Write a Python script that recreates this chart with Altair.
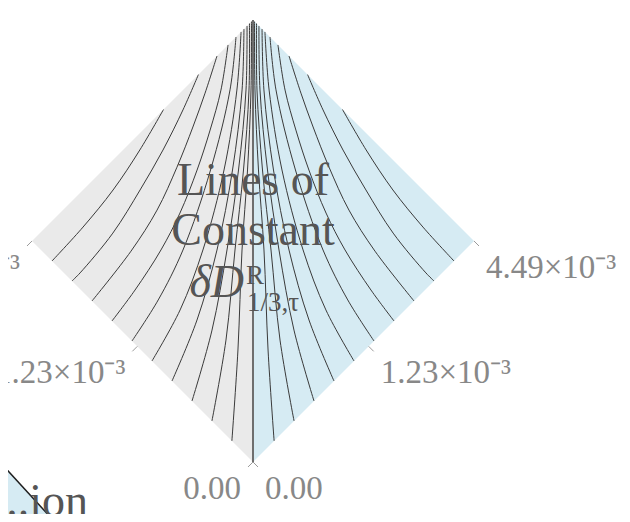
import altair as alt
import pandas as pd

# Both diamond axes run from 0 to 4.49×10⁻³ on a square-root scale.
AXIS_MAX = 4.49  # in units of 10⁻³

tick_values = [0.0, 1.23, 4.49]
tick_labels = ["0.00", "1.23×10⁻³", "4.49×10⁻³"]

# Contour lines in the gray (left) half: u = right-axis value, v = left-axis value (×10⁻³)
left_u = [
    [1.590, 0.909, 0.401, 0.097, 0.0],
    [2.546, 1.828, 1.132, 0.582, 0.181, 0.006, 0.0],
    [3.146, 2.367, 1.737, 1.100, 0.559, 0.181, 0.0],
    [3.533, 2.655, 1.920, 1.280, 0.711, 0.331, 0.067, 0.0],
    [3.825, 2.802, 1.431, 0.463, 0.104, 0.0],
    [4.018, 2.910, 1.590, 0.603, 0.144, 0.0],
    [4.130, 2.997, 1.694, 0.711, 0.170, 0.0],
    [4.251, 3.063, 1.770, 0.795, 0.190, 0.0],
    [4.348, 3.112, 1.834, 0.865, 0.207, 0.0],
    [4.427, 3.146, 1.887, 0.929, 0.216, 0.0],
]
left_v = [
    [4.49, 4.155, 3.900, 3.768, 3.714],
    [4.49, 4.095, 3.714, 3.406, 3.130, 3.012, 3.012],
    [4.49, 3.993, 3.588, 3.161, 2.781, 2.546, 2.383],
    [4.49, 3.751, 3.229, 2.781, 2.383, 2.125, 1.932, 1.828],
    [4.49, 3.588, 2.571, 1.828, 1.516, 1.346],
    [4.49, 3.461, 2.368, 1.579, 1.163, 0.938],
    [4.49, 3.371, 2.244, 1.413, 0.901, 0.603],
    [4.49, 3.302, 2.159, 1.302, 0.687, 0.342],
    [4.49, 3.249, 2.089, 1.216, 0.510, 0.155],
    [4.49, 3.214, 2.034, 1.143, 0.371, 0.041],
]
# Contour lines in the blue (right) half
right_u = [
    [4.49, 4.155, 3.900, 3.768, 3.714],
    [4.49, 4.095, 3.714, 3.406, 3.130, 3.012, 3.012],
    [4.49, 3.993, 3.588, 3.161, 2.781, 2.546, 2.383],
    [4.49, 3.751, 3.229, 2.781, 2.383, 2.125, 1.932, 1.828],
    [4.49, 3.588, 2.571, 1.828, 1.516, 1.346],
    [4.49, 3.461, 2.368, 1.579, 1.163, 0.938],
    [4.49, 3.371, 2.244, 1.413, 0.901, 0.603],
    [4.49, 3.302, 2.159, 1.302, 0.687, 0.342],
    [4.49, 3.249, 2.089, 1.216, 0.510, 0.155],
    [4.49, 3.214, 2.034, 1.143, 0.371, 0.041],
]
right_v = [
    [1.590, 0.909, 0.401, 0.097, 0.0],
    [2.546, 1.828, 1.132, 0.582, 0.181, 0.006, 0.0],
    [3.146, 2.367, 1.737, 1.100, 0.559, 0.181, 0.0],
    [3.533, 2.655, 1.920, 1.280, 0.711, 0.331, 0.067, 0.0],
    [3.825, 2.802, 1.431, 0.463, 0.104, 0.0],
    [4.018, 2.910, 1.590, 0.603, 0.144, 0.0],
    [4.130, 2.997, 1.694, 0.711, 0.170, 0.0],
    [4.251, 3.063, 1.770, 0.795, 0.190, 0.0],
    [4.348, 3.112, 1.834, 0.865, 0.207, 0.0],
    [4.427, 3.146, 1.887, 0.929, 0.216, 0.0],
]

# Zero line (u = v)
center_u = [0.0, 4.49]
center_v = [0.0, 4.49]

# Half-diamond fills: lower and upper corner of each vertical slice
half_side = ["left", "left", "right", "right"]
half_lo_u = [0.0, 0.0, 0.0, 4.49]
half_lo_v = [4.49, 0.0, 0.0, 0.0]
half_hi_u = [0.0, 4.49, 4.49, 4.49]
half_hi_v = [4.49, 4.49, 4.49, 0.0]

# Edge of the neighbouring panel (diagonal units of this frame)
neighbor_h = [-1.167, -0.851]
neighbor_w = [0.023, -0.321]

# ---------------------------------------------------------------------------
GRAY_FILL = "#EAEAEA"
BLUE_FILL = "#D6EBF3"
SERIF = "Liberation Serif"

X_DOMAIN = [-1.1086, 1.6697]
Y_DOMAIN = [-0.2353, 2.0543]


def xe(field="h"):
    return alt.X(f"{field}:Q", scale=alt.Scale(domain=X_DOMAIN, nice=False, zero=False), axis=None)


def ye(field="w"):
    return alt.Y(f"{field}:Q", scale=alt.Scale(domain=Y_DOMAIN, nice=False, zero=False), axis=None)


def sq(f):
    return f"sqrt(datum.{f}/{AXIS_MAX})"


H_EXPR = f"{sq('u')} - {sq('v')}"
W_EXPR = f"{sq('u')} + {sq('v')}"

rows = []
for side, us, vs in (("left", left_u, left_v), ("right", right_u, right_v)):
    for k, (cu, cv) in enumerate(zip(us, vs)):
        for i, (uu, vv) in enumerate(zip(cu, cv)):
            rows.append({"curve": f"{side}{k}", "i": i, "u": uu, "v": vv})
curves = pd.DataFrame(rows)

halves = pd.DataFrame({"side": half_side, "lu": half_lo_u, "lv": half_lo_v,
                       "hu": half_hi_u, "hv": half_hi_v})

fills = alt.Chart(halves).transform_calculate(
    h=f"{sq('lu')} - {sq('lv')}",
    w=f"{sq('lu')} + {sq('lv')}",
    w2=f"{sq('hu')} + {sq('hv')}",
).mark_area(opacity=1).encode(
    x=xe(), y=ye(), y2="w2:Q",
    color=alt.Color("side:N", scale=alt.Scale(domain=["left", "right"],
                                               range=[GRAY_FILL, BLUE_FILL]), legend=None),
)

curve_layer = alt.Chart(curves).transform_calculate(h=H_EXPR, w=W_EXPR).mark_line(
    interpolate="catmull-rom", color="#3a3a3a", strokeWidth=1
).encode(x=xe(), y=ye(), detail="curve:N", order="i:Q")

center = alt.Chart(pd.DataFrame({"u": center_u, "v": center_v})).transform_calculate(
    h=H_EXPR, w=W_EXPR
).mark_line(color="#6e6e6e", strokeWidth=2).encode(x=xe(), y=ye())

n = len(tick_values)
ticks = pd.DataFrame({
    "t": tick_values * 2,
    "label": tick_labels * 2,
    "axis": ["right"] * n + ["left"] * n,
})
tick_base = alt.Chart(ticks).transform_calculate(
    u="datum.axis == 'right' ? datum.t : 0",
    v="datum.axis == 'left' ? datum.t : 0",
).transform_calculate(h=H_EXPR, w=W_EXPR)

tick_r = tick_base.transform_filter("datum.axis == 'right'").mark_point(
    shape="M0,0L1,1", size=100, filled=False, color="#9a9a9a", strokeWidth=1, opacity=1
).encode(x=xe(), y=ye())
tick_l = tick_base.transform_filter("datum.axis == 'left'").mark_point(
    shape="M0,0L-1,1", size=100, filled=False, color="#9a9a9a", strokeWidth=1, opacity=1
).encode(x=xe(), y=ye())

lab_r = tick_base.transform_filter("datum.axis == 'right'").mark_text(
    align="left", baseline="middle", dx=12, dy=27, font=SERIF, fontSize=33, color="#888888"
).encode(x=xe(), y=ye(), text="label:N")
lab_l = tick_base.transform_filter("datum.axis == 'left'").mark_text(
    align="right", baseline="middle", dx=-12, dy=27, font=SERIF, fontSize=33, color="#888888"
).encode(x=xe(), y=ye(), text="label:N")


def note(text, x, y, size=46, align="center", style="normal", color="#555555"):
    return alt.Chart(pd.DataFrame({"t": [text]})).mark_text(
        align=align, baseline="alphabetic", font=SERIF, fontSize=size,
        fontStyle=style, color=color
    ).encode(text="t:N", x=alt.value(x), y=alt.value(y))


title1 = note("Lines of", 245, 187)
title2 = note("Constant", 245, 237)
title3 = note("δD", 236, 289, align="right", style="italic")
title_sup = note("R", 238, 276, size=27, align="left")
title_sub = note("1/3,τ", 239, 303, size=27, align="left")

nb = pd.DataFrame({"h": neighbor_h, "w": neighbor_w, "floor": [-0.6, -0.6]})
nb_fill = alt.Chart(nb).mark_area(color=BLUE_FILL, opacity=1).encode(
    x=xe(), y=ye(), y2="floor:Q")
nb_edge = alt.Chart(nb).mark_line(color="#1e1e1e", strokeWidth=1.5).encode(x=xe(), y=ye())
nb_text = note("...ion", 80, 508, align="right")

chart = alt.layer(
    fills, nb_fill, nb_edge, curve_layer, center, tick_r, tick_l, lab_r, lab_l,
    title1, title2, title3, title_sup, title_sub, nb_text,
).properties(
    width=614, height=506, autosize=alt.AutoSizeParams(type="none"), padding=0,
    background="white",
).configure_view(stroke=None)

chart.save("out.html", embed_options={"renderer": "svg", "actions": False})
